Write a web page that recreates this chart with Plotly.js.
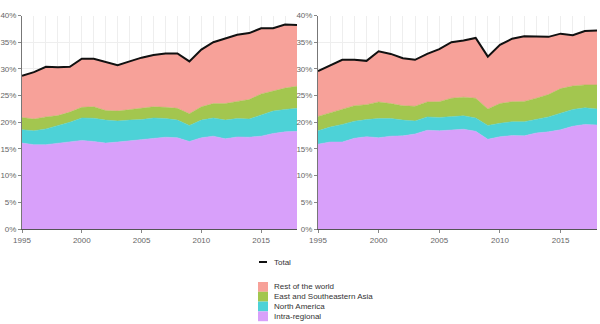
<!DOCTYPE html>
<html>
<head>
<meta charset="utf-8">
<script src="https://cdn.plot.ly/plotly-3.0.1.min.js"></script>
<style>html,body{margin:0;padding:0;background:#fff;}#chart{width:600px;height:324px;}</style>
</head>
<body>
<div id="chart"></div>
<script>
const years = [1995,1996,1997,1998,1999,2000,2001,2002,2003,2004,2005,2006,2007,2008,2009,2010,2011,2012,2013,2014,2015,2016,2017,2018];
const seriesNames = ["Rest of the world","East and Southeastern Asia","North America","Intra-regional"];
const totalName = "Total";

// Left panel (values in %)
const leftIntra = [16.1,15.8,15.8,16.1,16.4,16.6,16.4,16.1,16.3,16.5,16.75,16.9,17.2,17.1,16.4,17.1,17.4,16.9,17.25,17.2,17.4,17.9,18.2,18.3];
const leftNorthAmerica = [2.5,2.6,2.95,3.3,3.6,4.2,4.35,4.3,3.95,3.9,3.75,3.9,3.5,3.3,3.0,3.3,3.4,3.5,3.45,3.4,4.0,4.2,4.2,4.3];
const leftEastAsia = [2.3,2.2,2.25,1.85,1.9,2.0,2.15,1.8,1.85,2.0,2.1,2.1,2.1,2.2,2.2,2.5,2.7,3.1,3.2,3.65,3.9,3.7,4.0,4.15];
const leftRest = [7.8,8.8,9.4,9.05,8.5,9.1,9.0,9.05,8.6,9.0,9.5,9.7,10.1,10.3,9.8,10.7,11.5,12.2,12.5,12.45,12.3,11.8,11.9,11.45];
const leftTotal = [28.7,29.4,30.4,30.3,30.4,31.9,31.9,31.25,30.7,31.4,32.1,32.6,32.9,32.9,31.4,33.6,35.0,35.7,36.4,36.7,37.6,37.6,38.3,38.2];

// Right panel (values in %)
const rightIntra = [15.9,16.3,16.3,17.0,17.3,17.1,17.4,17.45,17.8,18.5,18.4,18.6,18.7,18.3,16.8,17.3,17.5,17.45,18.0,18.2,18.6,19.25,19.6,19.5];
const rightNorthAmerica = [2.5,2.8,3.3,3.2,3.2,3.6,3.3,2.95,2.45,2.5,2.5,2.5,2.5,2.5,2.6,2.5,2.6,2.65,2.6,2.8,3.1,3.15,3.1,3.0];
const rightEastAsia = [2.7,2.7,2.8,2.9,2.8,3.1,2.8,2.7,2.75,2.8,2.95,3.4,3.5,3.7,3.1,3.7,3.75,3.8,3.9,4.2,4.6,4.4,4.3,4.5];
const rightRest = [8.5,8.8,9.3,8.6,8.2,9.5,9.3,8.9,8.7,9.0,9.85,10.5,10.6,11.3,9.8,11.0,11.8,12.2,11.5,10.8,10.3,9.5,10.1,10.2];
const rightTotal = [29.6,30.6,31.7,31.7,31.5,33.3,32.8,32.0,31.7,32.8,33.7,35.0,35.3,35.8,32.3,34.5,35.65,36.1,36.0,36.0,36.6,36.3,37.1,37.2];

const colors = {
  "Rest of the world": "#F7A199",
  "East and Southeastern Asia": "#A3C64F",
  "North America": "#4DD2D7",
  "Intra-regional": "#D8A0FA"
};

function panel(xa, ya, group, intra, na, ea, rest, total) {
  const stackOrder = [["Intra-regional", intra], ["North America", na], ["East and Southeastern Asia", ea], ["Rest of the world", rest]];
  const tr = stackOrder.map(([name, vals]) => ({
    type: "scatter", mode: "lines", x: years, y: vals, name: name,
    stackgroup: group, fillcolor: colors[name],
    line: {width: 0.5, color: colors[name], shape: "linear"},
    xaxis: xa, yaxis: ya, showlegend: false, hoverinfo: "skip"
  }));
  tr.push({
    type: "scatter", mode: "lines", x: years, y: total, name: totalName,
    line: {width: 2, color: "#111"}, xaxis: xa, yaxis: ya, showlegend: false, hoverinfo: "skip"
  });
  return tr;
}

const data = [].concat(
  panel("x", "y", "a", leftIntra, leftNorthAmerica, leftEastAsia, leftRest, leftTotal),
  panel("x2", "y2", "b", rightIntra, rightNorthAmerica, rightEastAsia, rightRest, rightTotal)
);

const W = 600, H = 324;
const px = v => v / W;
const py = v => 1 - v / H;

const tickFont = {family: "Liberation Sans, Arial, sans-serif", size: 8, color: "#666"};
function xaxisDef(domain, anchor) {
  return {
    domain: domain, anchor: anchor, range: [1995, 2018], tickvals: [1995,2000,2005,2010,2015],
    ticks: "outside", ticklen: 3, tickcolor: "#888", tickfont: tickFont,
    showline: true, linecolor: "#555", linewidth: 1,
    showgrid: true, gridcolor: "#eeeeee", gridwidth: 1,
    minor: {dtick: 1, showgrid: true, gridcolor: "#eeeeee", gridwidth: 1, ticks: ""},
    zeroline: false, fixedrange: true
  };
}
function yaxisDef(anchor) {
  return {
    domain: [py(229), py(15.5)], anchor: anchor, range: [0, 40], dtick: 5, ticksuffix: "%",
    ticks: "outside", ticklen: 3, tickcolor: "#888", tickfont: tickFont,
    showline: true, linecolor: "#777", linewidth: 1,
    showgrid: true, gridcolor: "#eeeeee", gridwidth: 1, zeroline: false, fixedrange: true
  };
}

// Legend drawn manually (compact)
const legFont = {family: "Liberation Sans, Arial, sans-serif", size: 8, color: "#333"};
const shapes = [{
  type: "line", xref: "paper", yref: "paper",
  x0: px(259), x1: px(267), y0: py(262), y1: py(262),
  line: {color: "#111", width: 2}
}];
const annotations = [{
  xref: "paper", yref: "paper", x: px(272), y: py(262), xanchor: "left", yanchor: "middle",
  text: totalName, showarrow: false, font: legFont
}];
seriesNames.forEach((name, i) => {
  const top = 282 + i * 9.8;
  shapes.push({
    type: "rect", xref: "paper", yref: "paper",
    x0: px(258), x1: px(268), y0: py(top + 9.8), y1: py(top),
    fillcolor: colors[name], line: {width: 0}
  });
  annotations.push({
    xref: "paper", yref: "paper", x: px(272), y: py(top + 4.9), xanchor: "left", yanchor: "middle",
    text: name, showarrow: false, font: legFont
  });
});

const layout = {
  width: W, height: H,
  margin: {l: 0, r: 0, t: 0, b: 0},
  paper_bgcolor: "#fff", plot_bgcolor: "#fff",
  showlegend: false,
  xaxis: xaxisDef([px(22), px(297)], "y"),
  yaxis: yaxisDef("x"),
  xaxis2: xaxisDef([px(318), px(597)], "y2"),
  yaxis2: yaxisDef("x2"),
  shapes: shapes, annotations: annotations
};

Plotly.newPlot("chart", data, layout, {staticPlot: true, displayModeBar: false});
</script>
</body>
</html>
